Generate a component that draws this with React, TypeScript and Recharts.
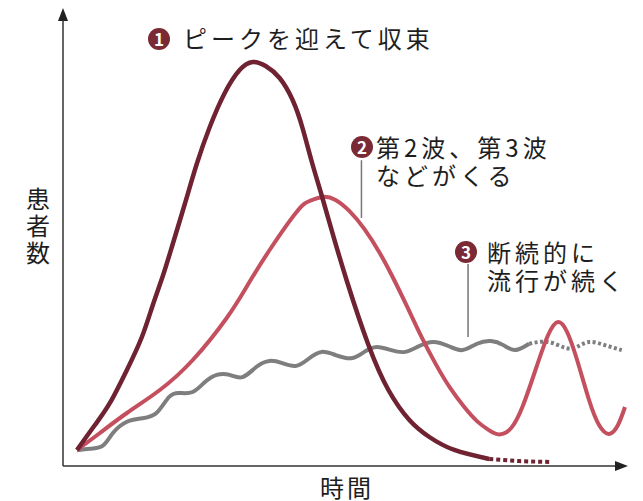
import { LineChart, Line, XAxis, YAxis, ReferenceLine } from "recharts";

// schematic: x = time (0-100), y = patients (0-100)
const peakX = [2.49, 5.69, 8.36, 11.39, 14.06, 16.01, 17.79, 19.4, 21.71, 23.84, 26.16, 28.83, 31.49, 33.81, 36.12, 38.61, 40.93, 42.7, 44.31, 46.09, 48.04, 50.71, 54.45, 58.01, 61.74, 65.3, 69.75, 75.98];
const peakY = [3.55, 9.09, 13.97, 21.29, 28.6, 35.7, 42.13, 48.56, 58.09, 66.96, 75.17, 82.71, 87.8, 89.58, 88.69, 86.03, 81.15, 74.94, 67.63, 60.09, 51.66, 40.58, 26.83, 16.85, 10.2, 6.43, 3.55, 1.55];
const peakTailX = [75.98, 81.3, 86.7];
const peakTailY = [1.55, 1.1, 0.9];

const waveX = [2.49, 6.58, 11.39, 17.26, 23.13, 29.18, 32.92, 36.83, 41.64, 43.95, 46.26, 48.58, 51.07, 53.74, 56.41, 58.72, 61.39, 63.88, 66.55, 69.04, 71.53, 73.84, 75.98, 77.76, 79.89, 82.03, 84.34, 86.48, 88.26, 89.86, 91.64, 93.77, 95.55, 97.33, 98.93, 100.18];
const waveY = [3.55, 7.32, 11.75, 16.85, 23.5, 32.82, 40.13, 47.89, 56.32, 58.76, 59.65, 58.98, 56.5, 52.51, 47.34, 42.02, 35.21, 28.69, 22.37, 17.25, 13.06, 9.89, 7.89, 7.01, 8.43, 13.53, 21.73, 29.05, 31.93, 29.71, 23.5, 14.63, 9.09, 7.1, 9.09, 13.08];

const steadyX = [2.5, 4.8, 7.1, 8.9, 11.4, 14.2, 16.7, 18.9, 20.8, 23.1, 25.3, 27.4, 29.7, 32.0, 34.5, 36.8, 39.1, 41.6, 43.9, 46.1, 48.6, 51.4, 53.7, 55.9, 58.5, 61.0, 63.5, 66.0, 68.7, 71.2, 73.8, 76.3, 78.5, 80.6, 83.1];
const steadyY = [3.5, 3.8, 4.5, 7.3, 9.8, 10.6, 11.8, 15.3, 16.2, 16.4, 18.6, 20.2, 20.2, 19.7, 22.0, 23.3, 22.8, 22.2, 23.9, 25.3, 24.6, 23.9, 25.3, 26.4, 25.7, 25.3, 26.6, 27.5, 26.6, 25.7, 27.1, 27.7, 26.8, 25.7, 27.1];
const steadyTailX = [83.1, 86.5, 89.5, 91.6, 93.8, 96.6, 99.6];
const steadyTailY = [27.1, 27.5, 26.2, 26.4, 27.5, 26.8, 25.7];

const zip = (xs: number[], ys: number[]) => xs.map((x, i) => ({ x, y: ys[i] }));

const DARK = "#6f2231";
const PINK = "#c4505f";
const GRAY = "#7e7e7e";
const BADGE = "#7a2a35";
const FONT = "'Noto Sans CJK JP', 'Noto Sans', sans-serif";

const Badge = ({ n, cx, cy }: { n: number; cx: number; cy: number }) => (
  <div style={{
    position: "absolute", left: cx - 11, top: cy - 11, width: 22, height: 22,
    borderRadius: "50%", background: BADGE, color: "#fff", fontSize: 17, fontWeight: 700,
    lineHeight: "22px", textAlign: "center", fontFamily: FONT,
  }}>{n}</div>
);

const Note = ({ left, top, lines }: { left: number; top: number; lines: string[] }) => (
  <div style={{
    position: "absolute", left, top, fontSize: 24, lineHeight: "28px", letterSpacing: 4,
    color: "#1e1e1e", fontFamily: FONT, whiteSpace: "nowrap",
  }}>
    {lines.map((l, i) => <div key={i}>{l}</div>)}
  </div>
);

export default function App() {
  return (
    <div style={{ position: "absolute", left: 0, top: 0, width: 643, height: 501, background: "#fff", fontFamily: FONT }}>
      <LineChart width={643} height={501} margin={{ top: 15, right: 18, bottom: 35, left: 63 }}>
        <XAxis type="number" dataKey="x" domain={[0, 100]} hide />
        <YAxis type="number" dataKey="y" domain={[0, 100]} hide />
        <ReferenceLine y={0} stroke="#333" strokeWidth={1.5} />
        <ReferenceLine x={0} stroke="#333" strokeWidth={1.5} />
        <ReferenceLine segment={[{ x: 53.2, y: 67.8 }, { x: 53.2, y: 55.0 }]} stroke="#777" strokeWidth={1.5} />
        <ReferenceLine segment={[{ x: 72.2, y: 44.8 }, { x: 72.2, y: 28.6 }]} stroke="#777" strokeWidth={1.5} />
        <Line data={zip(steadyX, steadyY)} dataKey="y" type="natural" stroke={GRAY} strokeWidth={4} dot={false} isAnimationActive={false} />
        <Line data={zip(steadyTailX, steadyTailY)} dataKey="y" type="natural" stroke={GRAY} strokeWidth={4} strokeDasharray="3 2.5" dot={false} isAnimationActive={false} />
        <Line data={zip(waveX, waveY)} dataKey="y" type="natural" stroke={PINK} strokeWidth={4} dot={false} isAnimationActive={false} />
        <Line data={zip(peakTailX, peakTailY)} dataKey="y" type="monotone" stroke={DARK} strokeWidth={4} strokeDasharray="4 3" dot={false} isAnimationActive={false} />
        <Line data={zip(peakX, peakY)} dataKey="y" type="natural" stroke={DARK} strokeWidth={4.5} dot={false} isAnimationActive={false} />
      </LineChart>
      <svg width={643} height={501} style={{ position: "absolute", left: 0, top: 0, pointerEvents: "none" }}>
        <polygon points="63,8 58,21 68,21" fill="#222" />
        <polygon points="628,466 615,461 615,471" fill="#222" />
      </svg>
      <Badge n={1} cx={159} cy={39} />
      <Note left={183} top={24} lines={["ピークを迎えて収束"]} />
      <Badge n={2} cx={362} cy={147} />
      <Note left={376} top={133} lines={["第2波、第3波", "などがくる"]} />
      <Badge n={3} cx={466} cy={252} />
      <Note left={487} top={238} lines={["断続的に", "流行が続く"]} />
      <div style={{ position: "absolute", left: 24, top: 184, width: 28, fontSize: 24, lineHeight: "27px", textAlign: "center", color: "#1e1e1e" }}>
        <div>患</div><div>者</div><div>数</div>
      </div>
      <div style={{ position: "absolute", left: 320, top: 475, fontSize: 24, lineHeight: "24px", letterSpacing: 3, color: "#1e1e1e" }}>時間</div>
    </div>
  );
}
